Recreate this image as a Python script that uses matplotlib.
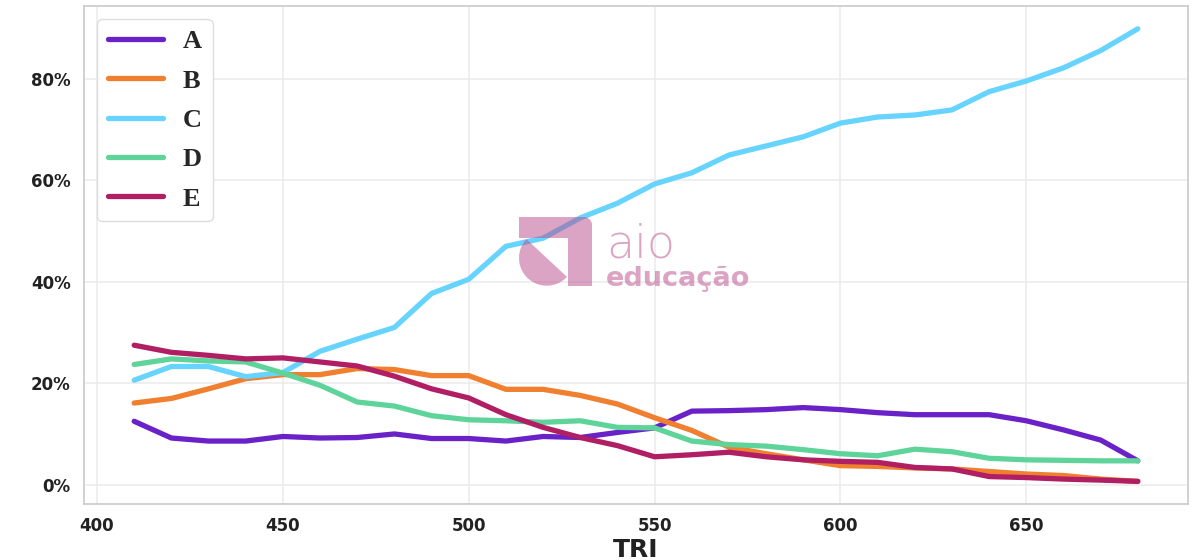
import matplotlib
matplotlib.use("Agg")
import matplotlib.pyplot as plt
import seaborn as sns
import numpy as np
from matplotlib.ticker import PercentFormatter
from matplotlib.patches import Polygon

tri = list(range(410, 690, 10))

serie_a = [12.5, 9.2, 8.6, 8.6, 9.5, 9.2, 9.3, 10.0, 9.1, 9.1, 8.6, 9.5, 9.3, 10.3,
           11.2, 14.5, 14.6, 14.8, 15.2, 14.8, 14.2, 13.8, 13.8, 13.8, 12.6, 10.8, 8.8, 4.7]
serie_b = [16.1, 17.0, 18.9, 20.9, 21.7, 21.7, 22.9, 22.7, 21.5, 21.5, 18.8, 18.8, 17.6, 15.9,
           13.2, 10.7, 7.4, 6.1, 4.9, 3.75, 3.6, 3.3, 3.1, 2.6, 2.1, 1.8, 1.1, 0.65]
serie_c = [20.6, 23.3, 23.3, 21.3, 22.1, 26.3, 28.7, 31.0, 37.7, 40.5, 47.0, 48.6, 52.6, 55.5,
           59.3, 61.5, 65.0, 66.8, 68.6, 71.3, 72.5, 72.9, 73.9, 77.5, 79.6, 82.2, 85.6, 89.9]
serie_d = [23.7, 24.8, 24.4, 24.2, 22.0, 19.6, 16.3, 15.5, 13.6, 12.8, 12.6, 12.3, 12.6, 11.3,
           11.2, 8.6, 7.9, 7.6, 6.9, 6.1, 5.7, 7.0, 6.5, 5.2, 4.9, 4.8, 4.7, 4.7]
serie_e = [27.5, 26.1, 25.5, 24.8, 25.0, 24.2, 23.4, 21.4, 18.9, 17.1, 13.8, 11.3, 9.3, 7.7,
           5.5, 5.9, 6.4, 5.5, 4.9, 4.6, 4.4, 3.4, 3.1, 1.6, 1.4, 1.1, 0.9, 0.65]

nomes = ["A", "B", "C", "D", "E"]
cores = ["#6A22C8", "#F07F30", "#66D4FF", "#5FD49A", "#B01E64"]

sns.set_theme(style="whitegrid")

fig = plt.figure(figsize=(12, 5.6), dpi=100)
ax = fig.add_axes([0.07, 0.1, 0.92, 0.889])

for nome, serie, cor in zip(nomes, [serie_a, serie_b, serie_c, serie_d, serie_e], cores):
    ax.plot(tri, serie, color=cor, lw=3.8, label=nome, solid_capstyle="round")

ax.yaxis.set_major_formatter(PercentFormatter(decimals=0))
ax.set_yticks([0, 20, 40, 60, 80])
ax.tick_params(axis="both", labelsize=12)
for lbl in ax.get_xticklabels() + ax.get_yticklabels():
    lbl.set_fontweight("bold")
    lbl.set_color("#222222")
ax.set_xlabel("TRI", fontsize=18, fontweight="bold", color="#222222", labelpad=2)
ax.grid(True, color="#ebebeb", lw=1.1)
for sp in ax.spines.values():
    sp.set_color("#cccccc")

leg = ax.legend(loc="upper left", handlelength=2.1, handletextpad=0.75, borderpad=0.4,
                labelspacing=0.6,
                prop={"family": "Liberation Serif", "weight": "bold", "size": 19},
                fancybox=True, framealpha=1)
leg.get_frame().set_edgecolor("#dddddd")

# marca d'agua (coordenadas em pixels da figura)
rosa = "#BB4B8A"
logo = fig.add_axes([515 / 1200, 1 - 300 / 560, 85 / 1200, 88 / 560])
logo.set_xlim(515, 600)
logo.set_ylim(300, 212)
logo.axis("off")
logo.patch.set_alpha(0)
logo.set_zorder(10)

t = np.linspace(-np.pi / 2, 0, 15)
canto = np.column_stack([584 + 8 * np.cos(t), 225 + 8 * np.sin(t)])
barra = np.vstack([[[519, 217]], canto, [[592, 286], [568, 286], [568, 238], [519, 238]]])
logo.add_patch(Polygon(barra, closed=True, color=rosa, alpha=0.5, lw=0))

t = np.radians(np.linspace(43, 223, 60))
pizza = np.column_stack([546.7 + 27.7 * np.cos(t), 258 + 27.7 * np.sin(t)])
pizza[:, 0] = np.minimum(pizza[:, 0], 567.6)
pizza[:, 1] = np.maximum(pizza[:, 1], 238.4)
logo.add_patch(Polygon(pizza, closed=True, color=rosa, alpha=0.5, lw=0))

fig.text(606 / 1200, 1 - 258 / 560, "aio", fontsize=33, color=rosa, alpha=0.5,
         fontweight="light", family="DejaVu Sans", zorder=11)
fig.text(606 / 1200, 1 - 286 / 560, "educação", fontsize=19.5, color=rosa, alpha=0.5,
         fontweight="bold", family="DejaVu Sans", zorder=11)

fig.savefig("out.png", dpi=100)
